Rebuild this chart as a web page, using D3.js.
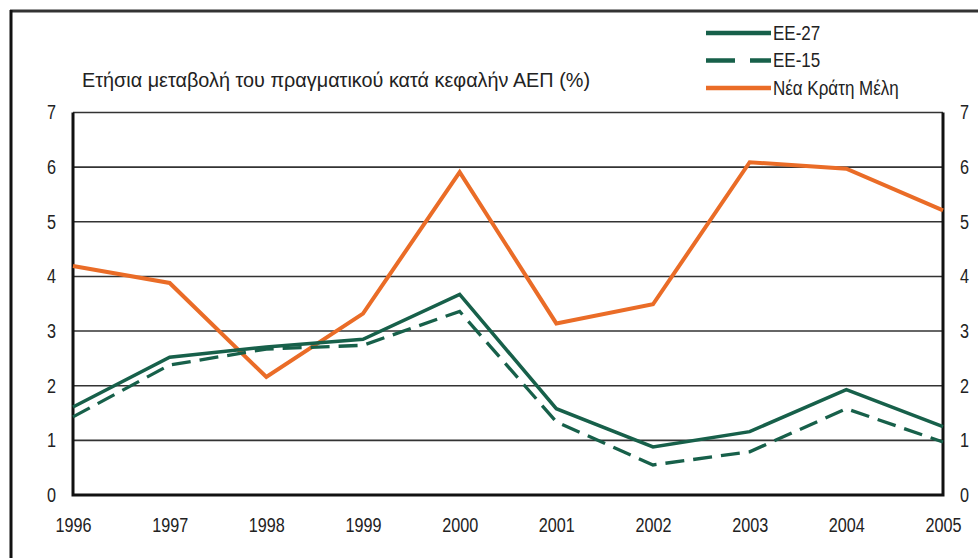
<!DOCTYPE html>
<html><head><meta charset="utf-8">
<script src="https://cdn.jsdelivr.net/npm/d3@7"></script>
<style>
html,body{margin:0;padding:0;background:#fff;}
text{font-family:"Liberation Sans",Arial,sans-serif;fill:#222;}
</style></head>
<body><svg id="c" width="978" height="558"></svg>
<script>
const years = [1996,1997,1998,1999,2000,2001,2002,2003,2004,2005];
const eu27 = [1.61,2.52,2.71,2.85,3.67,1.58,0.88,1.16,1.93,1.25];
const eu15 = [1.43,2.38,2.67,2.74,3.36,1.34,0.55,0.79,1.58,0.97];
const nms  = [4.19,3.88,2.16,3.32,5.91,3.14,3.49,6.09,5.97,5.21];
const yTicks = [0,1,2,3,4,5,6,7];
const seriesNames = ["ΕΕ-27","ΕΕ-15","Νέα Κράτη Μέλη"];
const title = "Ετήσια μεταβολή του πραγματικού κατά κεφαλήν ΑΕΠ (%)";

const green = "#17604a", orange = "#ea6c27";
const svg = d3.select("#c");
const L = 73, R = 943, T = 112.5, B = 495;
const x = d3.scalePoint().domain(years).range([L, R]);
const y = d3.scaleLinear().domain([0,7]).range([B, T]);
const SX = 0.81;

// outer frame
svg.append("line").attr("x1",10).attr("x2",978).attr("y1",11).attr("y2",11).attr("stroke","#333").attr("stroke-width",3);
svg.append("line").attr("x1",11).attr("x2",11).attr("y1",10).attr("y2",558).attr("stroke","#111").attr("stroke-width",3);

// grid
svg.append("g").selectAll("line").data(yTicks.filter(d=>d>0)).join("line")
  .attr("x1",L).attr("x2",R).attr("y1",d=>y(d)).attr("y2",d=>y(d))
  .attr("stroke","#333").attr("stroke-width",1.6);

// axes
const gl = svg.append("g").attr("transform",`translate(${L-14},0)`)
  .call(d3.axisLeft(y).tickValues(yTicks).tickFormat(d3.format("d")).tickSize(0).tickPadding(3));
const gr = svg.append("g").attr("transform",`translate(${R+14},0)`)
  .call(d3.axisRight(y).tickValues(yTicks).tickFormat(d3.format("d")).tickSize(0).tickPadding(3));
const gb = svg.append("g").attr("transform",`translate(0,${B+23})`)
  .call(d3.axisBottom(x).tickSize(0).tickPadding(0).tickFormat(d3.format("d")));
[gl,gr,gb].forEach(g=>{
  g.select(".domain").remove();
  g.selectAll("text").style("font-size","20px").attr("fill","#222")
   .attr("transform",`scale(${SX},1)`);
});
gl.selectAll("text").attr("x",-3/SX);
gr.selectAll("text").attr("x",3/SX);
gb.selectAll("text").attr("dy","0.71em");

// plot border (left, bottom, right)
svg.append("path").attr("d",`M${L},${T}V${B}H${R}V${T}`).attr("fill","none")
  .attr("stroke","#111").attr("stroke-width",3);

// lines
const line = d3.line().x((d,i)=>x(years[i])).y(d=>y(d));
svg.append("path").datum(nms).attr("d",line).attr("fill","none")
  .attr("stroke",orange).attr("stroke-width",4).attr("stroke-linejoin","miter");
svg.append("path").datum(eu15).attr("d",line).attr("fill","none")
  .attr("stroke",green).attr("stroke-width",3.3).attr("stroke-dasharray","19,9");
svg.append("path").datum(eu27).attr("d",line).attr("fill","none")
  .attr("stroke",green).attr("stroke-width",3.5);

// title
svg.append("text").attr("x",82).attr("y",80).attr("dy","0.35em")
  .style("font-size","20px").attr("textLength",508).attr("lengthAdjust","spacingAndGlyphs")
  .text(title);

// legend
const legY = [33,60.5,88];
const legStyles = [
  {stroke:green,dash:null,w:4.5},
  {stroke:green,dash:"29,15",w:4.5},
  {stroke:orange,dash:null,w:4.5}
];
const LSX = 0.85;
const lg = svg.append("g");
seriesNames.forEach((n,i)=>{
  lg.append("line").attr("x1",706).attr("x2",771).attr("y1",legY[i]).attr("y2",legY[i])
    .attr("stroke",legStyles[i].stroke).attr("stroke-width",legStyles[i].w)
    .attr("stroke-dasharray",legStyles[i].dash);
  lg.append("text").attr("x",773/LSX).attr("y",legY[i]).attr("dy","0.35em")
    .attr("transform",`scale(${LSX},1)`).style("font-size","20px").text(n);
});
</script></body></html>
